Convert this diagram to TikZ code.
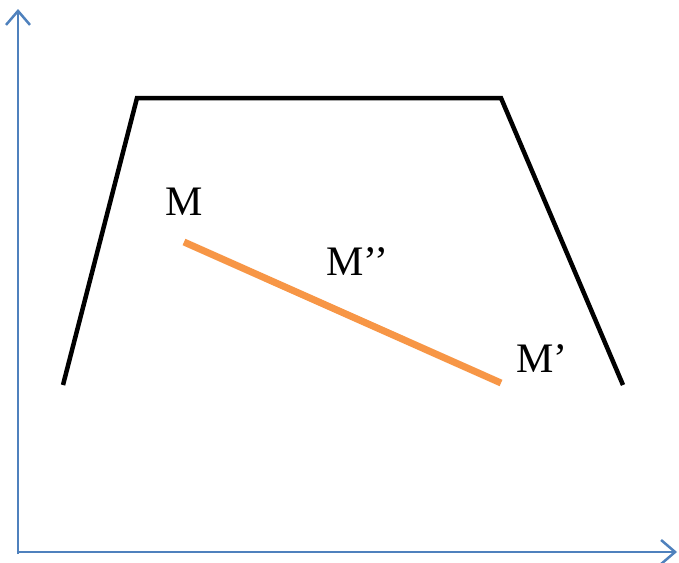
\documentclass[tikz,border=0pt]{standalone}
\usepackage{fontspec}
\setmainfont{Liberation Serif}
\usetikzlibrary{arrows.meta}
\definecolor{axisblue}{HTML}{4F81BD}
\definecolor{segorange}{HTML}{F79646}
\begin{document}
\begin{tikzpicture}[x=1pt,y=-1pt,
  axis/.style={draw=axisblue,line width=2.5pt,-{Straight Barb[length=14pt,width=24pt,line width=2.5pt]}},
  trap/.style={draw=black,line width=4.5pt},
  seg/.style={draw=segorange,line width=7pt},
  lab/.style={inner sep=0pt,anchor=base west,font=\fontsize{42}{48}\selectfont}]
\useasboundingbox (0,0) rectangle (679,562);
\coordinate (O) at (18,552);
\coordinate (Ytop) at (18,9);
\coordinate (Xend) at (677,552);
\draw[axis] (18,554) -- (Ytop);
\draw[axis] (16.75,552) -- (Xend);
\coordinate (A) at (63,385);
\coordinate (B) at (137,98);
\coordinate (C) at (501,98);
\coordinate (D) at (623,385);
\draw[trap] (A) -- (B) -- (C) -- (D);
\coordinate (M) at (184,242);
\coordinate (Mp) at (501,383);
\draw[seg] (M) -- (Mp);
\node[lab] (lM) at (165,215) {M};
\node[lab] (lMpp) at (326,275) {M’’};
\node[lab] (lMp) at (516,372) {M’};
\end{tikzpicture}
\end{document}
